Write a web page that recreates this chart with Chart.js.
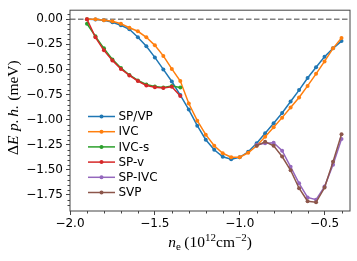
<!DOCTYPE html>
<html>
<head>
<meta charset="utf-8">
<script src="https://cdn.jsdelivr.net/npm/chart.js@4.4.0/dist/chart.umd.min.js"></script>
<style>
  html, body { margin: 0; padding: 0; background: #fff; }
  #wrap { width: 357px; height: 261px; }
</style>
</head>
<body>
<div id="wrap"><canvas id="chart" width="357" height="261"></canvas></div>
<script>
// carrier density n_e (10^12 cm^-2)
const nAll = [-1.9, -1.85, -1.8, -1.75, -1.7, -1.65, -1.6, -1.55, -1.5, -1.45, -1.4,
              -1.35, -1.3, -1.25, -1.2, -1.15, -1.1, -1.05, -1.0, -0.95, -0.9,
              -0.85, -0.8, -0.75, -0.7, -0.65, -0.6, -0.55, -0.5, -0.45, -0.4];
const nLow = [-1.9, -1.85, -1.8, -1.75, -1.7, -1.65, -1.6, -1.55, -1.5, -1.45, -1.4, -1.35];
const nHigh = [-0.9, -0.85, -0.8, -0.75, -0.7, -0.65, -0.6, -0.55, -0.5, -0.45, -0.4];

// Delta E per hole (meV)
const spVp = [0.0, -0.003, -0.01, -0.03, -0.06, -0.10, -0.18, -0.27, -0.38, -0.50, -0.62,
              -0.755, -0.90, -1.06, -1.20, -1.30, -1.37, -1.395, -1.375, -1.32, -1.235,
              -1.135, -1.035, -0.934, -0.82, -0.706, -0.586, -0.478, -0.374, -0.29, -0.218];
const ivc = [0.0, 0.0, -0.01, -0.02, -0.045, -0.085, -0.12, -0.18, -0.26, -0.365, -0.495,
             -0.615, -0.84, -1.01, -1.15, -1.26, -1.335, -1.374, -1.374, -1.33, -1.26,
             -1.17, -1.075, -0.98, -0.88, -0.78, -0.664, -0.544, -0.42, -0.29, -0.186];
const ivcS = [-0.045, -0.17, -0.29, -0.40, -0.485, -0.555, -0.61, -0.65, -0.67, -0.68, -0.665, -0.68];
const spV = [0.0, -0.18, -0.31, -0.41, -0.495, -0.56, -0.615, -0.66, -0.677, -0.684, -0.672, -0.765];
const spIvc = [-1.25, -1.235, -1.23, -1.31, -1.47, -1.634, -1.775, -1.797, -1.667, -1.45, -1.194];
const svp = [-1.26, -1.22, -1.26, -1.367, -1.504, -1.683, -1.813, -1.823, -1.677, -1.42, -1.146];

const seriesNames = ["SP/VP", "IVC", "IVC-s", "SP-v", "SP-IVC", "SVP"];
const seriesX = [nAll, nAll, nLow, nLow, nHigh, nHigh];
const seriesY = [spVp, ivc, ivcS, spV, spIvc, svp];
const colors = ["#1f77b4", "#ff7f0e", "#2ca02c", "#d62728", "#9467bd", "#8c564b"];

const xTicks = [-2.0, -1.5, -1.0, -0.5];
const xMinor = [-1.9, -1.8, -1.7, -1.6, -1.4, -1.3, -1.2, -1.1, -0.9, -0.8, -0.7, -0.6, -0.4];
const yTicks = [0.0, -0.25, -0.5, -0.75, -1.0, -1.25, -1.5, -1.75];
const yMinor = [0.05, -0.05, -0.1, -0.15, -0.2, -0.3, -0.35, -0.4, -0.45, -0.55, -0.6, -0.65, -0.7,
                -0.8, -0.85, -0.9, -0.95, -1.05, -1.1, -1.15, -1.2, -1.3, -1.35, -1.4, -1.45,
                -1.55, -1.6, -1.65, -1.7, -1.8, -1.85];

const tickFont = { family: "DejaVu Sans", size: 12 };
const mathFamily = "Liberation Serif";
const axisColor = "#444";

function fmt(v, d) {
    const s = Math.abs(v) < 1e-9 ? (0).toFixed(d) : v.toFixed(d);
    return s.replace("-", "\u2212");
}

// draw a run of mixed-style text pieces, centered at (cx, cy)
function drawRich(ctx, pieces, cx, cy) {
    let total = 0;
    pieces.forEach(p => {
        ctx.font = `${p.italic ? "italic " : ""}${p.size}px "${mathFamily}"`;
        p.w = ctx.measureText(p.t).width;
        total += p.w + (p.gap || 0);
    });
    let x = cx - total / 2;
    ctx.textBaseline = "alphabetic";
    ctx.textAlign = "left";
    pieces.forEach(p => {
        ctx.font = `${p.italic ? "italic " : ""}${p.size}px "${mathFamily}"`;
        ctx.fillText(p.t, x, cy + (p.dy || 0));
        x += p.w + (p.gap || 0);
    });
}

const decorPlugin = {
    id: "decor",
    beforeDatasetsDraw(chart) {
        const { ctx, chartArea: a, scales } = chart;
        // zero reference line
        const y0 = scales.y.getPixelForValue(0);
        ctx.save();
        ctx.strokeStyle = "#808080";
        ctx.lineWidth = 1.3;
        ctx.setLineDash([5.5, 2.5]);
        ctx.beginPath();
        ctx.moveTo(a.left, y0);
        ctx.lineTo(a.right, y0);
        ctx.stroke();
        ctx.restore();
    },
    afterDraw(chart) {
        const { ctx, chartArea: a, scales } = chart;
        ctx.save();
        // frame
        ctx.strokeStyle = axisColor;
        ctx.lineWidth = 1;
        ctx.strokeRect(a.left, a.top, a.right - a.left, a.bottom - a.top);
        // minor ticks
        ctx.beginPath();
        xMinor.forEach(v => {
            const px = Math.round(scales.x.getPixelForValue(v)) + 0.5;
            ctx.moveTo(px, a.bottom);
            ctx.lineTo(px, a.bottom + 2.5);
        });
        yMinor.forEach(v => {
            const py = Math.round(scales.y.getPixelForValue(v)) + 0.5;
            ctx.moveTo(a.left, py);
            ctx.lineTo(a.left - 2.5, py);
        });
        ctx.stroke();

        // legend
        ctx.font = `12px "DejaVu Sans"`;
        ctx.textBaseline = "middle";
        ctx.textAlign = "left";
        seriesNames.forEach((name, i) => {
            const ly = 116.5 + i * 15.2;
            ctx.strokeStyle = colors[i];
            ctx.lineWidth = 1.5;
            ctx.beginPath();
            ctx.moveTo(88, ly);
            ctx.lineTo(115, ly);
            ctx.stroke();
            ctx.fillStyle = colors[i];
            ctx.beginPath();
            ctx.arc(101.5, ly, 2, 0, Math.PI * 2);
            ctx.fill();
            ctx.fillStyle = "#000";
            ctx.fillText(name, 118.5, ly + 0.5);
        });

        // axis titles
        ctx.fillStyle = "#000";
        drawRich(ctx, [
            { t: "n", italic: true, size: 15.5 },
            { t: "e", size: 11, dy: 3, gap: 3.5 },
            { t: "(10", size: 15.5 },
            { t: "12", size: 11, dy: -6 },
            { t: "cm", size: 15.5 },
            { t: "\u22122", size: 11, dy: -6 },
            { t: ")", size: 15.5 }
        ], (a.left + a.right) / 2, 247);

        ctx.translate(18, (a.top + a.bottom) / 2 - 3);
        ctx.rotate(-Math.PI / 2);
        drawRich(ctx, [
            { t: "\u0394", size: 15.5 },
            { t: "E", italic: true, size: 15.5, gap: 4.5 },
            { t: "p.", italic: true, size: 15.5, gap: 2.5 },
            { t: "h.", italic: true, size: 15.5, gap: 4.5 },
            { t: "(meV)", size: 15.5 }
        ], 0, 0);
        ctx.restore();
    }
};

const datasets = seriesNames.map((name, i) => ({
    label: name,
    data: seriesX[i].map((x, j) => ({ x: x, y: seriesY[i][j] })),
    borderColor: colors[i],
    backgroundColor: colors[i],
    borderWidth: 1.5,
    pointRadius: 2,
    pointBorderWidth: 0,
    pointHoverRadius: 2,
    tension: 0,
    order: seriesNames.length - i
}));

new Chart(document.getElementById("chart").getContext("2d"), {
    type: "line",
    data: { datasets: datasets },
    options: {
        responsive: false,
        animation: false,
        events: [],
        layout: { padding: { top: 7, right: 7, left: 0, bottom: 0 } },
        plugins: { legend: { display: false }, tooltip: { enabled: false } },
        scales: {
            x: {
                type: "linear",
                min: -2.0,
                max: -0.35,
                afterBuildTicks: (scale) => { scale.ticks = xTicks.map(v => ({ value: v })); },
                afterFit: (scale) => { scale.height = 50; },
                grid: { drawOnChartArea: false, drawTicks: true, tickLength: 4, color: axisColor },
                border: { display: false },
                ticks: {
                    font: tickFont,
                    color: "#000",
                    padding: 2,
                    maxRotation: 0,
                    callback: (v) => fmt(v, 1)
                }
            },
            y: {
                type: "linear",
                min: -1.91,
                max: 0.09,
                afterBuildTicks: (scale) => { scale.ticks = yTicks.map(v => ({ value: v })); },
                afterFit: (scale) => { scale.width = 70; },
                grid: { drawOnChartArea: false, drawTicks: true, tickLength: 4, color: axisColor },
                border: { display: false },
                ticks: {
                    font: tickFont,
                    color: "#000",
                    padding: 3,
                    callback: (v) => fmt(v, 2)
                }
            }
        }
    },
    plugins: [decorPlugin]
});
</script>
</body>
</html>
